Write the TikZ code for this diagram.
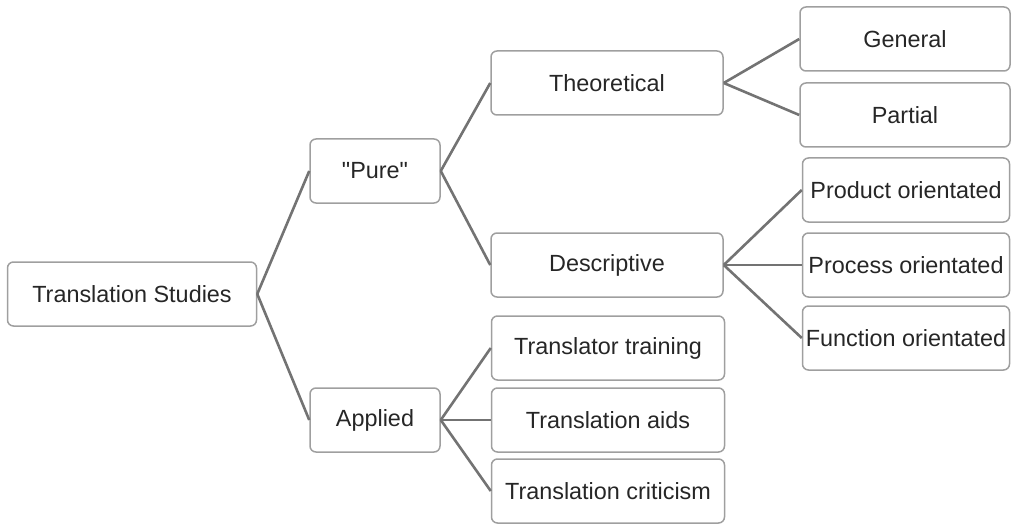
\documentclass[tikz,border=0pt]{standalone}
\usepackage{fontspec}
\setmainfont{Liberation Sans}
\usetikzlibrary{positioning}

\begin{document}
\begin{tikzpicture}[node distance=116pt, auto]
    \tikzstyle{block} = [rectangle, draw=gray!75, line width=0.75pt, text=black!85, text centered, rounded corners=3pt, minimum height=32pt, inner sep=1pt, font=\fontsize{11.7}{13}\selectfont]
    \tikzstyle{line} = [draw=gray!90!black, line width=1.3pt]
    \useasboundingbox (0,0) rectangle (506pt,-262pt);

    \node [block, minimum width=124.5pt] (studies) at (66pt,-147pt) {Translation Studies};

    \node [block, minimum width=65pt, right of=studies, node distance=121.5pt, yshift=61.5pt] (pure) {\textquotedbl Pure\textquotedbl};
    \node [block, minimum width=65pt, right of=studies, node distance=121.5pt, yshift=-63pt] (applied) {Applied};

    \node [block, minimum width=116pt, right of=pure, yshift=44pt] (theoretical) {Theoretical};
    \node [block, minimum width=116pt, right of=pure, yshift=-47pt] (descriptive) {Descriptive};

    \node [block, minimum width=116.5pt, right of=applied, node distance=116.5pt, yshift=36pt] (training) {Translator training};
    \node [block, minimum width=116.5pt, right of=applied, node distance=116.5pt] (aids) {Translation aids};
    \node [block, minimum width=116.5pt, right of=applied, node distance=116.5pt, yshift=-35.5pt] (criticism) {Translation criticism};

    \node [block, minimum width=105pt, right of=theoretical, node distance=149pt, yshift=22pt] (general) {General};
    \node [block, minimum width=105pt, right of=theoretical, node distance=149pt, yshift=-16pt] (partial) {Partial};

    \node [block, minimum width=103.5pt, right of=descriptive, node distance=149.5pt, yshift=37.5pt] (product) {Product orientated};
    \node [block, minimum width=103.5pt, right of=descriptive, node distance=149.5pt] (process) {Process orientated};
    \node [block, minimum width=103.5pt, right of=descriptive, node distance=149.5pt, yshift=-36.5pt] (function) {Function orientated};

    \draw [line] (studies.east) -- (pure.west);
    \draw [line] (studies.east) -- (applied.west);
    \draw [line] (pure.east) -- (theoretical.west);
    \draw [line] (pure.east) -- (descriptive.west);
    \draw [line] (applied.east) -- (training.west);
    \draw [line] (applied.east) -- (aids.west);
    \draw [line] (applied.east) -- (criticism.west);
    \draw [line] (theoretical.east) -- (general.west);
    \draw [line] (theoretical.east) -- (partial.west);
    \draw [line] (descriptive.east) -- (product.west);
    \draw [line] (descriptive.east) -- (process.west);
    \draw [line] (descriptive.east) -- (function.west);
\end{tikzpicture}
\end{document}
